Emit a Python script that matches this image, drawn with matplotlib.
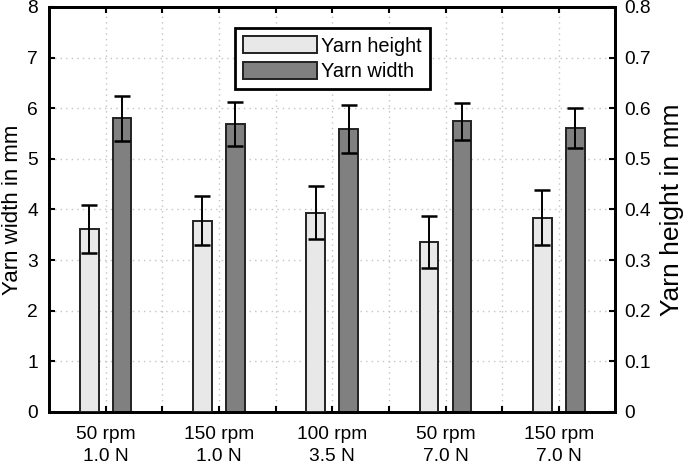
import numpy as np
import matplotlib
matplotlib.use('Agg')
import matplotlib.pyplot as plt

plt.rcParams['font.family'] = ['Liberation Sans', 'DejaVu Sans']
plt.rcParams['font.size'] = 13.8

# 数据
conditions = ['50 rpm\n1.0 N', '150 rpm\n1.0 N', '100 rpm\n3.5 N', '50 rpm\n7.0 N', '150 rpm\n7.0 N']
group_pos = [1, 3, 5, 7, 9]
yarn_height = [0.362, 0.378, 0.394, 0.336, 0.384]
yarn_height_err = [0.047, 0.049, 0.053, 0.051, 0.055]
yarn_width = [5.80, 5.69, 5.59, 5.74, 5.61]
yarn_width_err = [0.45, 0.44, 0.48, 0.36, 0.40]

fig = plt.figure(figsize=(6.85, 4.65), dpi=100)
ax = fig.add_axes([0.0715, 0.114, 0.827, 0.871])
ax2 = ax.twinx()

pos = np.array(group_pos, dtype=float)
bw = 0.33
err_kw = dict(ecolor='black', elinewidth=1.4, capsize=5.8, capthick=1.8)

b1 = ax2.bar(pos - 0.29, yarn_height, bw, yerr=yarn_height_err, color='#e8e8e8',
             edgecolor='#222222', linewidth=1.4, label='Yarn height', error_kw=err_kw, zorder=3)
b2 = ax.bar(pos + 0.29, yarn_width, bw, yerr=yarn_width_err, color='#808080',
            edgecolor='#222222', linewidth=1.4, label='Yarn width', error_kw=err_kw, zorder=3)

ax.set_xlim(0, 10)
ax.set_ylim(0, 8)
ax2.set_ylim(0, 0.8)

ticks = list(range(1, 10))
labels = ['' for _ in ticks]
for p, c in zip(group_pos, conditions):
    labels[ticks.index(p)] = c
ax.set_xticks(ticks)
ax.set_xticklabels(labels, linespacing=1.38)
ax.set_yticks(range(0, 9))
ax2.set_yticks(np.round(np.arange(0, 0.81, 0.1), 1))
ax2.set_yticklabels(['0'] + ['%.1f' % v for v in np.arange(0.1, 0.81, 0.1)])

ax.tick_params(axis='x', direction='in', length=4.5, width=1.5, top=True, pad=10)
ax.tick_params(axis='y', direction='in', length=4.5, width=1.5, pad=8)
ax2.tick_params(axis='y', direction='in', length=4.5, width=1.5, pad=6)

ax.grid(True, linestyle=(0, (1, 3)), color='#c4c4c4', linewidth=1.0)
ax.set_axisbelow(True)

for a in (ax, ax2):
    for s in a.spines.values():
        s.set_linewidth(2)

ax.set_ylabel('Yarn width in mm', fontsize=16, labelpad=3)
ax2.set_ylabel('Yarn height in mm', fontsize=19, rotation=90, labelpad=7)

# 合并图例
leg = ax2.legend([b1, b2], ['Yarn height', 'Yarn width'], loc='upper center',
                 bbox_to_anchor=(0.5, 0.948), fontsize=14.4,
                 fancybox=False, edgecolor='black', framealpha=1,
                 handlelength=3.7, handleheight=0.95, handletextpad=0.2,
                 borderpad=0.4, labelspacing=0.3, borderaxespad=0)
leg.get_frame().set_linewidth(2)

fig.savefig('out.png', dpi=100)
